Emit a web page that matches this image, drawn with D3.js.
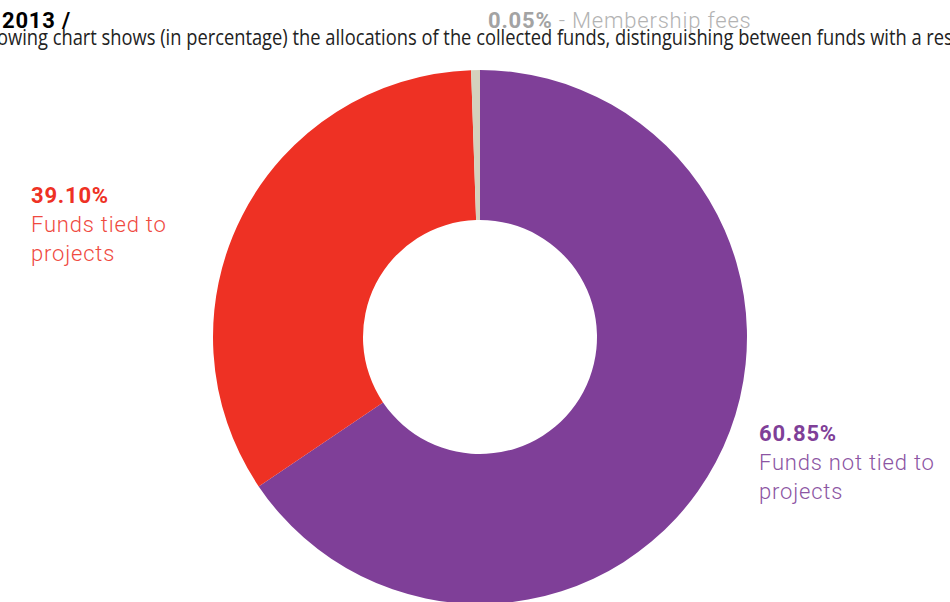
<!DOCTYPE html>
<html>
<head>
<meta charset="utf-8">
<script src="https://cdn.jsdelivr.net/npm/d3@7"></script>
<style>
  html, body { margin: 0; padding: 0; background: #fff; overflow: hidden; }
  svg { display: block; }
</style>
</head>
<body>
<svg id="chart"></svg>
<script>
// slice shares as drawn in the picture (arc sizes), and the printed labels
const categories = ["Funds not tied to projects", "Funds tied to projects", "Membership fees"];
const sliceShares = [65.55, 33.92, 0.53];
const labelValues = ["60.85%", "39.10%", "0.05%"];
const sliceColors = ["#7f3f98", "#ee3124", "#d4d1bd"];

const titleText = "2013 /";
const subtitleText = "The following chart shows (in percentage) the allocations of the collected funds, distinguishing between funds with a restriction of use and funds without restriction.";

const width = 950, height = 602;
const cx = 480, cy = 337, outerR = 267, innerR = 117;

const svg = d3.select("#chart")
    .attr("width", width)
    .attr("height", height);

// donut
const pie = d3.pie().sort(null).value(d => d.share);
const arc = d3.arc().innerRadius(innerR).outerRadius(outerR);

const sliceData = categories.map((c, i) => ({name: c, share: sliceShares[i], color: sliceColors[i]}));

svg.append("g")
    .attr("transform", `translate(${cx},${cy})`)
  .selectAll("path")
  .data(pie(sliceData))
  .join("path")
    .attr("d", arc)
    .attr("fill", d => d.data.color);

// header
svg.append("text")
    .attr("x", 2)
    .attr("y", 28)
    .style("font-family", "Roboto, sans-serif")
    .style("font-weight", "bold")
    .style("font-size", "22px")
    .style("letter-spacing", "0.8px")
    .attr("fill", "#000")
    .text(titleText);

// subtitle runs off both edges; squeeze it horizontally to match
const sub = svg.append("text")
    .style("font-family", "'Open Sans', sans-serif")
    .style("font-size", "21px")
    .attr("fill", "#222");
const measure = s => { sub.text(s); return sub.node().getComputedTextLength(); };
const prefixW = measure("The foll");
const visW = measure("owing chart shows (in percentage) the allocations of the collected funds, distinguishing between funds with a rest");
const sx = 949 / visW * 1.015;
sub.text(subtitleText)
    .attr("transform", `translate(${-prefixW * sx - 3},45) scale(${sx},1)`);

// labels
function label(x, y, color, value, lines, light) {
    const t = svg.append("text")
        .attr("x", x)
        .attr("y", y)
        .style("font-family", "Roboto, sans-serif")
        .style("font-size", "22px")
        .style("letter-spacing", "0.8px");
    t.append("tspan")
        .attr("x", x)
        .style("font-weight", "bold")
        .attr("fill", color)
        .text(value);
    lines.forEach((l, i) => {
        t.append("tspan")
            .attr("x", x)
            .attr("dy", 29)
            .style("font-weight", "300")
            .attr("fill", light)
            .text(l);
    });
}

label(31, 203, sliceColors[1], labelValues[1], ["Funds tied to", "projects"], "#ef4a3f");
label(759, 441, sliceColors[0], labelValues[0], ["Funds not tied to", "projects"], "#8c55a3");

const mem = svg.append("text")
    .attr("x", 488)
    .attr("y", 28)
    .style("font-family", "Roboto, sans-serif")
    .style("font-size", "22px")
    .style("letter-spacing", "0.8px");
mem.append("tspan").style("font-weight", "bold").attr("fill", "#a3a3a3").text(labelValues[2]);
mem.append("tspan").style("font-weight", "300").attr("fill", "#b3b3b3").text(" - " + categories[2]);
</script>
</body>
</html>
